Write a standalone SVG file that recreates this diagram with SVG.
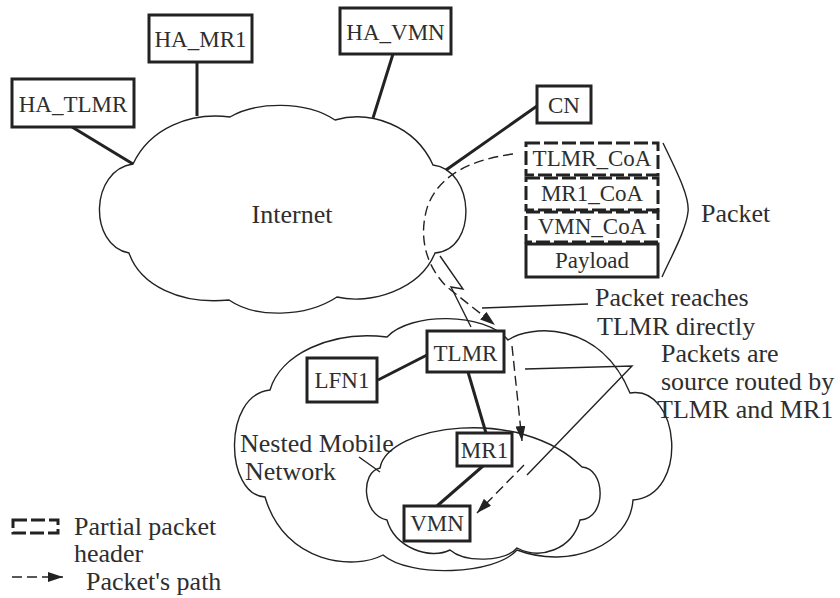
<svg xmlns="http://www.w3.org/2000/svg" width="840" height="598" viewBox="0 0 840 598">
  <defs>
    <marker id="arrow" viewBox="0 0 15 10" refX="15" refY="5" markerWidth="15" markerHeight="10" markerUnits="userSpaceOnUse" orient="auto">
      <path d="M0,0 L15,5 L0,10 Z" fill="#222"/>
    </marker>
    <style>
      .cloud{fill:none;stroke:#222;stroke-width:1.4}
      .box{fill:#fff;stroke:#222;stroke-width:3}
      .hdr{fill:#fff;stroke:#222;stroke-width:3;stroke-dasharray:14 4}
      .link{stroke:#222;stroke-width:3;fill:none}
      .route{stroke:#222;stroke-width:1.4;fill:none;stroke-dasharray:10 5}
      .thin{stroke:#222;stroke-width:1.4;fill:none}
      text{font-family:"Liberation Serif","Times New Roman",serif;fill:#2e2e2e}
      .lbl{font-size:23px;text-anchor:middle}
      .txt{font-size:26px}
    </style>
  </defs>

  <!-- clouds -->
  <g id="internet-cloud">
    <path class="cloud" d="M133,164 C150,128 190,112 230,117 C255,102 305,100 335,120 C370,110 415,125 433,165 C475,170 478,250 435,253 C420,290 370,305 337,297 C305,318 255,318 229,300 C180,305 140,285 129,253 C88,245 90,170 133,164 Z"/>
    <text class="txt" x="292" y="223" text-anchor="middle">Internet</text>
  </g>
  <g id="nested-cloud">
    <path class="cloud" d="M387,337 C410,312 485,312 508,340 C530,325 600,320 630,393 C680,385 690,495 633,500 C630,545 570,570 517,550 C495,575 410,578 383,555 C355,570 285,565 265,497 C225,495 222,395 270,390 C280,355 330,330 387,337 Z"/>
    <text class="txt" x="240" y="452">Nested Mobile</text>
    <text class="txt" x="245" y="480">Network</text>
    <path class="thin" d="M359,457 L380,472"/>
  </g>
  <g id="mr1-cloud">
    <path class="cloud" d="M380,468 C388,425 520,405 582,467 C605,468 608,518 580,520 C572,550 540,560 517,548 C505,562 465,563 450,550 C430,560 395,548 387,520 C362,515 360,472 380,468 Z"/>
  </g>

  <!-- connectors -->
  <g id="connectors">
    <path class="link" d="M72,127 L133,164"/>
    <path class="link" d="M197,62 L197,116"/>
    <path class="link" d="M393,54 L373,118"/>
    <path class="link" d="M446,170 L537,106"/>
    <path class="link" d="M378,380 L427,355"/>
    <path class="link" d="M468,372 L486,433"/>
    <path class="link" d="M483,466 L437,506"/>
    <!-- wireless hop -->
    <path class="thin" stroke-width="1.8" d="M440,256 L463,289 L451,287 L471,327"/>
    <!-- packet's path -->
    <path class="route" marker-end="url(#arrow)" d="M513,154 C470,160 440,175 428,205 C418,235 425,265 447,287 L495,325"/>
    <path class="route" marker-end="url(#arrow)" d="M512,346 L522,441"/>
    <path class="route" marker-end="url(#arrow)" d="M524,465 L477,513"/>
    <!-- callouts -->
    <path class="thin" d="M482,308 L588,304"/>
    <path class="thin" d="M525,369 L632,366 L527,475"/>
    <path class="thin" d="M663,143 C676,170 690,197 688,212 C686,230 672,255 662,277"/>
  </g>

  <!-- nodes -->
  <g id="ha-tlmr"><rect class="box" x="12" y="79" width="122" height="48"/><text class="lbl" x="73" y="112">HA_TLMR</text></g>
  <g id="ha-mr1"><rect class="box" x="149" y="15" width="103" height="47"/><text class="lbl" x="200.5" y="47">HA_MR1</text></g>
  <g id="ha-vmn"><rect class="box" x="340" y="8" width="111" height="46"/><text class="lbl" x="395.5" y="40">HA_VMN</text></g>
  <g id="cn"><rect class="box" x="537" y="86" width="54" height="37"/><text class="lbl" x="564" y="113">CN</text></g>
  <g id="tlmr"><rect class="box" x="427" y="331" width="77" height="41"/><text class="lbl" x="465.5" y="361">TLMR</text></g>
  <g id="lfn1"><rect class="box" x="307" y="358" width="70" height="44"/><text class="lbl" x="342" y="388">LFN1</text></g>
  <g id="mr1"><rect class="box" x="457" y="433" width="55" height="33"/><text class="lbl" x="484.5" y="458">MR1</text></g>
  <g id="vmn"><rect class="box" x="404" y="506" width="66" height="35"/><text class="lbl" x="437" y="531">VMN</text></g>

  <!-- packet -->
  <g id="packet">
    <rect class="hdr" x="526" y="143" width="132" height="32"/><text class="lbl" x="592" y="166">TLMR_CoA</text>
    <rect class="hdr" x="526" y="178" width="132" height="32"/><text class="lbl" x="592" y="201">MR1_CoA</text>
    <rect class="hdr" x="526" y="212" width="132" height="30"/><text class="lbl" x="592" y="234">VMN_CoA</text>
    <rect class="box" x="526" y="244" width="132" height="33"/><text class="lbl" x="592" y="268">Payload</text>
    <text class="txt" x="701" y="222">Packet</text>
  </g>

  <!-- annotations -->
  <g id="notes">
    <text class="txt" x="595" y="306">Packet reaches</text>
    <text class="txt" x="597" y="335">TLMR directly</text>
    <text class="txt" x="661" y="362">Packets are</text>
    <text class="txt" x="661" y="390">source routed by</text>
    <text class="txt" x="657" y="418">TLMR and MR1</text>
  </g>

  <!-- legend -->
  <g id="legend">
    <rect class="hdr" x="13" y="520" width="45" height="13" fill="none"/>
    <text class="txt" x="74" y="535">Partial packet</text>
    <text class="txt" x="74" y="562">header</text>
    <path class="route" stroke-dasharray="13 6" marker-end="url(#arrow)" d="M12,577 L63,577"/>
    <text class="txt" x="86" y="590">Packet's path</text>
  </g>
</svg>
